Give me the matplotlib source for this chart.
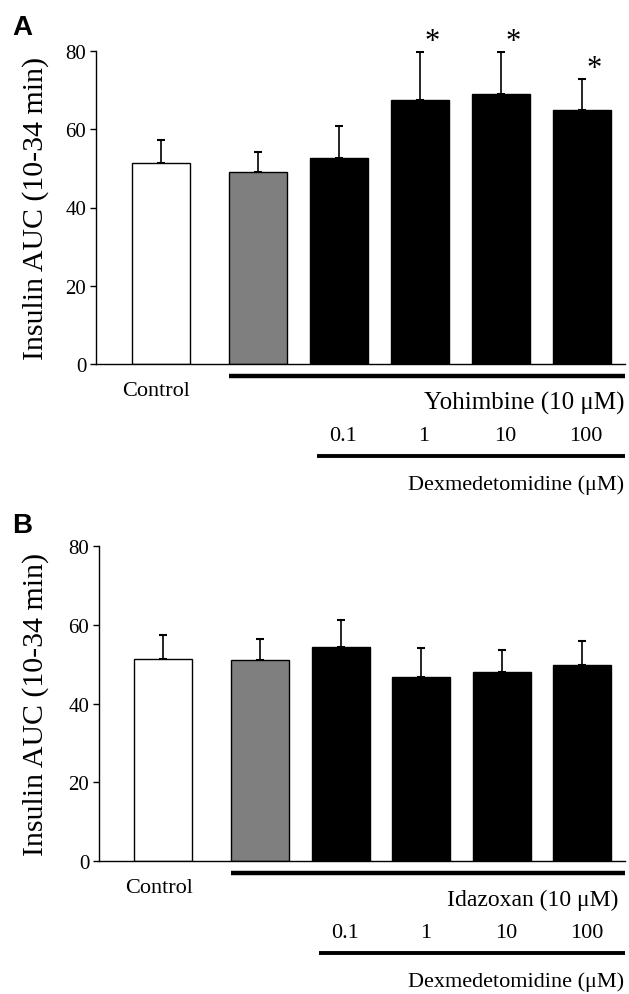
import numpy as np
import matplotlib
matplotlib.use('Agg')
import matplotlib.pyplot as plt

plt.rcParams['font.family'] = ['Liberation Serif', 'DejaVu Serif']

# data
groups = ['Control', 'Vehicle', '0.1', '1', '10', '100']
dex_labels = ['0.1', '1', '10', '100']

yoh_mean = [51.4, 49.1, 52.6, 67.6, 69.1, 64.8]
yoh_err = [5.8, 5.0, 8.3, 12.1, 10.6, 8.1]
yoh_signif = [False, False, False, True, True, True]

ida_mean = [51.3, 51.0, 54.4, 46.8, 48.1, 49.9]
ida_err = [6.0, 5.3, 6.8, 7.3, 5.4, 6.1]
ida_signif = [False, False, False, False, False, False]

bar_x = np.array([0, 1.2, 2.2, 3.2, 4.2, 5.2])
bar_colors = ['white', '#7f7f7f', 'black', 'black', 'black', 'black']


def draw_panel(ax, means, errs, signif, drug_label, drug_size, drug_right, ylab_x):
    ax.bar(bar_x, means, width=0.72, color=bar_colors, edgecolor='black',
           linewidth=1.0, zorder=2)
    ax.errorbar(bar_x, means, yerr=[np.zeros(len(errs)), errs], fmt='none',
                ecolor='black', elinewidth=1.2, capsize=3, capthick=1.5, zorder=1)
    for x, m, e, s in zip(bar_x, means, errs, signif):
        if s:
            ax.annotate('*', (x, m + e), xytext=(9, 2), textcoords='offset points',
                        ha='center', va='baseline', fontsize=22)

    ax.set_xlim(-0.8, 5.73)
    ax.set_ylim(0, 80)
    ax.set_yticks([0, 20, 40, 60, 80])
    ax.set_xticks([])
    ax.tick_params(axis='y', direction='out', length=4, width=1.0, labelsize=15, pad=3)
    for side in ['top', 'right']:
        ax.spines[side].set_visible(False)
    ax.spines['left'].set_linewidth(1.0)
    ax.spines['bottom'].set_linewidth(1.0)
    ax.set_ylabel('Insulin AUC (10-34 min)', fontsize=21.5)
    ax.yaxis.set_label_coords(ylab_x, 0.5)

    # group annotations below the axis, y in axes fraction
    tr = ax.get_xaxis_transform()
    h = ax.get_window_extent().height
    def below(px):
        return -px / h
    ax.plot([0.84, 5.73], [below(12)] * 2, color='black', lw=3.2,
            transform=tr, clip_on=False, solid_capstyle='butt')
    ax.text(-0.06, below(27), 'Control', transform=tr, ha='center', va='center', fontsize=16)
    ax.text(drug_right, below(38), drug_label, transform=tr, ha='right', va='center',
            fontsize=drug_size)
    for x, lab in zip(bar_x[2:], dex_labels):
        ax.text(x + 0.05, below(72), lab, transform=tr, ha='center', va='center', fontsize=16)
    ax.plot([1.93, 5.73], [below(92)] * 2, color='black', lw=2.8,
            transform=tr, clip_on=False, solid_capstyle='butt')
    ax.text(5.72, below(120), 'Dexmedetomidine (\u03bcM)', transform=tr,
            ha='right', va='center', fontsize=16)


fig = plt.figure(figsize=(6.29, 9.95), dpi=100)
ax_a = fig.add_axes([96 / 629, 1 - 365 / 995, 529 / 629, 313 / 995])
ax_b = fig.add_axes([99 / 629, 1 - 862 / 995, 526 / 629, 315 / 995])

draw_panel(ax_a, yoh_mean, yoh_err, yoh_signif, 'Yohimbine (10 \u03bcM)', 18, 5.72, -0.089)
draw_panel(ax_b, ida_mean, ida_err, ida_signif, 'Idazoxan (10 \u03bcM)', 17, 5.65, -0.095)

fig.text(12 / 629, 1 - 35 / 995, 'A', family=['Liberation Sans', 'DejaVu Sans'],
         fontsize=20, fontweight='bold', va='baseline')
fig.text(12 / 629, 1 - 533 / 995, 'B', family=['Liberation Sans', 'DejaVu Sans'],
         fontsize=20, fontweight='bold', va='baseline')

fig.savefig('out.png', dpi=100)
